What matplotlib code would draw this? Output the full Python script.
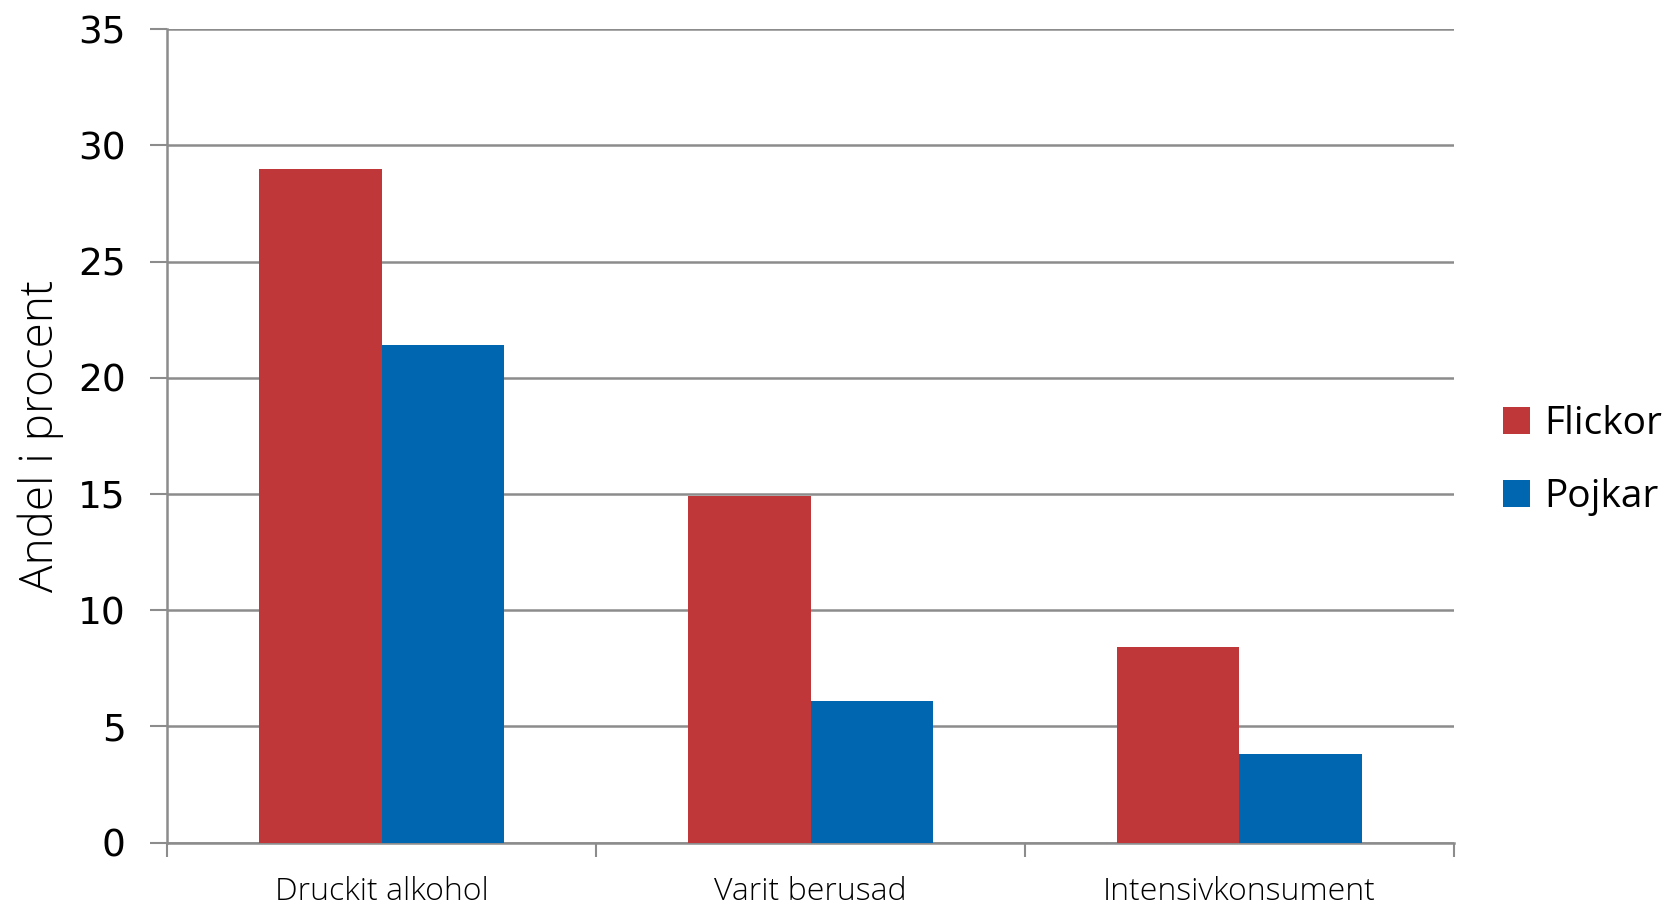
import numpy as np
import matplotlib
matplotlib.use("Agg")
from matplotlib import pyplot as plt

categories = ['Druckit alkohol', 'Varit berusad', 'Intensivkonsument']
flickor = [29.0, 14.9, 8.4]
pojkar = [21.4, 6.1, 3.8]
yticks = [0, 5, 10, 15, 20, 25, 30, 35]

RED = '#C0373A'
BLUE = '#0066B0'
GRID = '#8C8C8C'


def main():
    fig = plt.figure(figsize=(16.73, 9.10), dpi=100)
    ax = fig.add_axes([0.1, 0.074, 0.769, 0.894])

    x = np.arange(len(categories))
    w = 0.286
    ax.bar(x - w / 2, flickor, w, color=RED, label='Flickor', zorder=3)
    ax.bar(x + w / 2, pojkar, w, color=BLUE, label='Pojkar', zorder=3)

    ax.set_xlim(-0.5, len(categories) - 0.5)
    ax.set_ylim(0, 35)
    ax.set_yticks(yticks)
    ax.set_yticklabels([str(v) for v in yticks], fontsize=27, family='DejaVu Sans')
    ax.yaxis.grid(True, color=GRID, linewidth=1.8, zorder=0)

    # category labels sit between boundary ticks
    ax.set_xticks(np.arange(-0.5, len(categories), 1.0))
    ax.set_xticklabels([])
    ax.set_xticks(x, minor=True)
    ax.set_xticklabels(categories, minor=True, fontsize=23, family='Open Sans',
                       fontweight='light')
    ax.tick_params(axis='x', which='minor', length=0, pad=24)
    ax.tick_params(axis='x', which='major', length=10, width=1.5, color=GRID)
    ax.tick_params(axis='y', length=12, width=1.5, color=GRID, pad=18)

    for s in ['top', 'right']:
        ax.spines[s].set_visible(False)
    for s in ['left', 'bottom']:
        ax.spines[s].set_color(GRID)
        ax.spines[s].set_linewidth(1.8)

    ax.set_ylabel('Andel i procent', fontsize=33, family='Open Sans',
                  fontweight='light', labelpad=10)

    ax.legend(loc='center left', bbox_to_anchor=(1.011, 0.47),
              frameon=False, handlelength=0.7, handleheight=0.7,
              handletextpad=0.35, labelspacing=0.9,
              prop={'family': 'Open Sans', 'size': 28})

    fig.savefig('out.png', dpi=100)


if __name__ == '__main__':
    main()
